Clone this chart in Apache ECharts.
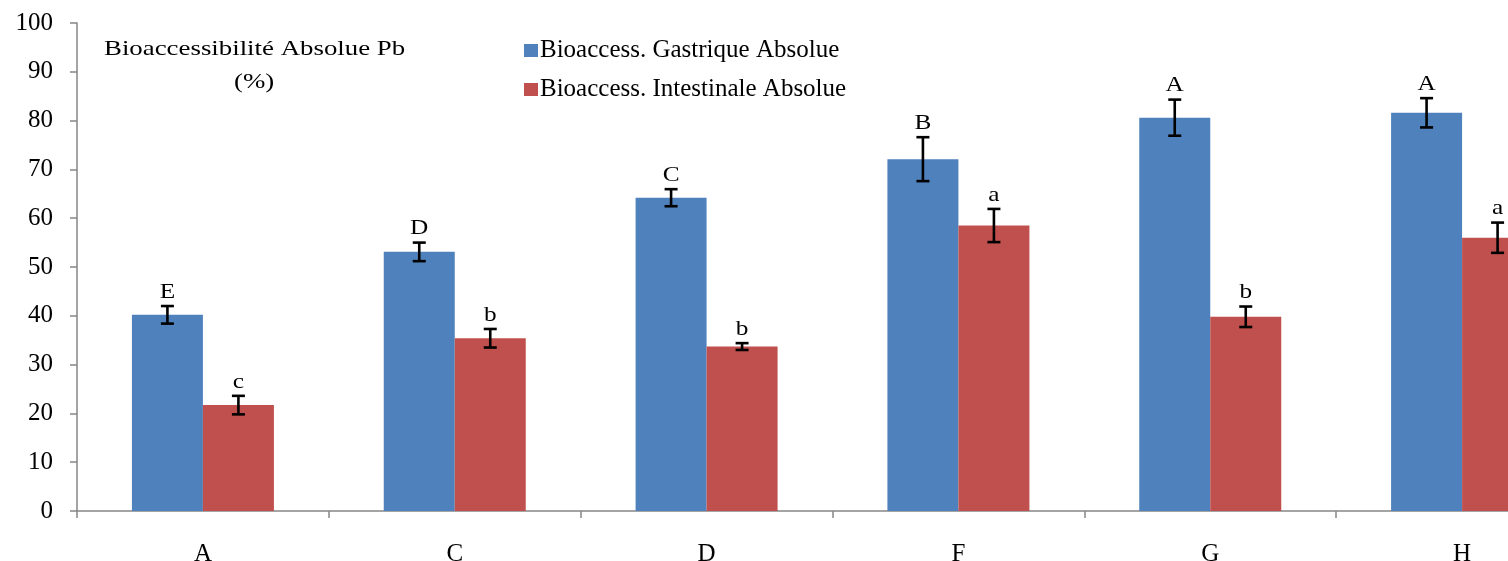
<!DOCTYPE html>
<html>
<head>
<meta charset="utf-8">
<script src="https://cdn.jsdelivr.net/npm/echarts@6/dist/echarts.min.js"></script>
<style>
html,body{margin:0;padding:0;background:#fff;}
#chart{width:1508px;height:561px;}
</style>
</head>
<body>
<div id="chart"></div>
<script>
const categories = ['A', 'C', 'D', 'F', 'G', 'H'];
const gastrique = [40.2, 53.1, 64.2, 72.1, 80.6, 81.6];
const gastriqueErr = [1.8, 1.9, 1.75, 4.5, 3.7, 3.0];
const gastriqueLetters = ['E', 'D', 'C', 'B', 'A', 'A'];
const intestinale = [21.7, 35.4, 33.7, 58.5, 39.8, 56.0];
const intestinaleErr = [1.9, 1.9, 0.7, 3.4, 2.1, 3.1];
const intestinaleLetters = ['c', 'b', 'b', 'a', 'b', 'a'];
const yTicks = [0, 10, 20, 30, 40, 50, 60, 70, 80, 90, 100];

const FONT = '"Liberation Serif", "Times New Roman", serif';
const BAR_W = 71;
const chart = echarts.init(document.getElementById('chart'));

function errSeries(name, values, errs, letters, sign) {
  return {
    name: name,
    type: 'custom',
    z: 10,
    silent: true,
    clip: false,
    data: values.map((v, i) => [i, v, errs[i]]),
    renderItem: function (params, api) {
      const i = api.value(0), v = api.value(1), e = api.value(2);
      const base = api.coord([i, v]);
      const x = base[0] + sign * BAR_W / 2;
      const top = api.coord([i, v + e])[1];
      const bot = api.coord([i, v - e])[1];
      const hw = 6.5;
      const ls = { stroke: '#000', lineWidth: 2.6 };
      return {
        type: 'group',
        children: [
          { type: 'line', shape: { x1: x, y1: top, x2: x, y2: bot }, style: ls },
          { type: 'line', shape: { x1: x - hw, y1: top, x2: x + hw, y2: top }, style: ls },
          { type: 'line', shape: { x1: x - hw, y1: bot, x2: x + hw, y2: bot }, style: ls },
          { type: 'text', x: x, y: top - 3, scaleX: 1.15,
            style: { text: letters[params.dataIndex], x: 0, y: 0,
              align: 'center', verticalAlign: 'bottom', font: '22px ' + FONT, fill: '#000' } }
        ]
      };
    }
  };
}

chart.setOption({
  animation: false,
  backgroundColor: '#fff',
  textStyle: { fontFamily: FONT },
  grid: { left: 77, top: 23, bottom: 50, width: 1511, containLabel: false, outerBoundsMode: 'none' },
  legend: {
    data: ['Bioaccess. Gastrique Absolue', 'Bioaccess. Intestinale Absolue'],
    orient: 'vertical',
    left: 519, top: 33,
    itemWidth: 14, itemHeight: 13, itemGap: 14,
    icon: 'rect',
    textStyle: { fontFamily: FONT, fontSize: 25, color: '#000', padding: [0, 0, 0, -3] }
  },
  graphic: [
    { type: 'text', x: 104, y: 38, scaleX: 1.22,
      style: { text: 'Bioaccessibilité Absolue Pb', font: '22px ' + FONT, fill: '#000' } },
    { type: 'text', x: 234, y: 71, scaleX: 1.22,
      style: { text: '(%)', font: '22px ' + FONT, fill: '#000' } }
  ],
  xAxis: {
    type: 'category',
    data: categories,
    boundaryGap: true,
    axisLine: { lineStyle: { color: '#868686', width: 1.5 } },
    axisTick: { show: true, length: 7, lineStyle: { color: '#868686', width: 1.5 } },
    axisLabel: { color: '#000', fontFamily: FONT, fontSize: 25, margin: 31 }
  },
  yAxis: {
    type: 'value',
    min: yTicks[0], max: yTicks[yTicks.length - 1], interval: 10,
    splitLine: { show: false },
    axisLine: { show: true, lineStyle: { color: '#868686', width: 1.5 } },
    axisTick: { show: true, length: 7, lineStyle: { color: '#868686', width: 1.5 } },
    axisLabel: { color: '#000', fontFamily: FONT, fontSize: 25, margin: 24 }
  },
  series: [
    { name: 'Bioaccess. Gastrique Absolue', type: 'bar', data: gastrique, barWidth: BAR_W, barGap: '0%',
      itemStyle: { color: '#4F81BD' } },
    { name: 'Bioaccess. Intestinale Absolue', type: 'bar', data: intestinale, barWidth: BAR_W, barGap: '0%',
      itemStyle: { color: '#C0504D' } },
    errSeries('errG', gastrique, gastriqueErr, gastriqueLetters, -1),
    errSeries('errI', intestinale, intestinaleErr, intestinaleLetters, 1)
  ]
});
</script>
</body>
</html>
